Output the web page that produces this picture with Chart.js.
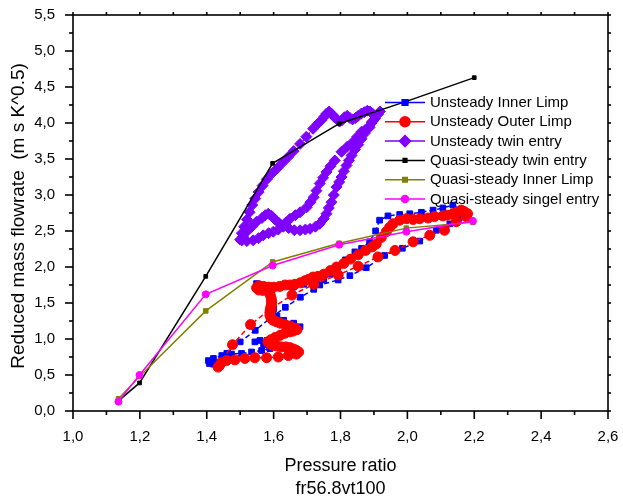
<!DOCTYPE html>
<html>
<head>
<meta charset="utf-8">
<script src="https://cdn.jsdelivr.net/npm/chart.js@4.4.0/dist/chart.umd.min.js"></script>
<style>
  html, body { margin: 0; padding: 0; background: #fff; }
  canvas { display: block; }
</style>
</head>
<body>
<canvas id="flowChart" width="623" height="499"></canvas>
<script>
// Axis ticks
const xTickValues = [1.0, 1.2, 1.4, 1.6, 1.8, 2.0, 2.2, 2.4, 2.6];
const yTickValues = [0.0, 0.5, 1.0, 1.5, 2.0, 2.5, 3.0, 3.5, 4.0, 4.5, 5.0, 5.5];

// Unsteady inner limb (pressure ratio, reduced mass flow)
const innerLimpX = [1.589, 1.564, 1.534, 1.504, 1.474, 1.445, 1.420, 1.405, 1.408, 1.420, 1.435,
  1.460, 1.500, 1.545, 1.590, 1.635, 1.680, 1.720, 1.738, 1.793, 1.828, 1.877, 1.932, 1.985,
  2.037, 2.087, 2.127, 2.155, 2.171, 2.160, 2.136, 2.106, 2.077, 2.042, 2.007, 1.977, 1.942,
  1.917, 1.905, 1.887, 1.863, 1.843, 1.815, 1.790, 1.770, 1.750, 1.720, 1.690, 1.659, 1.620,
  1.585, 1.549, 1.556, 1.570, 1.590, 1.600, 1.610, 1.630, 1.660, 1.679, 1.660, 1.620, 1.580,
  1.559, 1.544, 1.570, 1.589];
const innerLimpY = [0.87, 0.84, 0.82, 0.80, 0.79, 0.77, 0.73, 0.70, 0.66, 0.65, 0.68,
  0.80, 0.96, 1.12, 1.29, 1.44, 1.58, 1.69, 1.75, 1.82, 1.88, 1.99, 2.16, 2.26,
  2.36, 2.51, 2.60, 2.68, 2.72, 2.80, 2.86, 2.82, 2.79, 2.76, 2.74, 2.73, 2.71,
  2.65, 2.50, 2.35, 2.26, 2.21, 2.10, 2.00, 1.90, 1.82, 1.78, 1.76, 1.72, 1.73,
  1.74, 1.77, 1.70, 1.65, 1.55, 1.42, 1.32, 1.26, 1.22, 1.17, 1.12, 1.05, 0.98,
  0.98, 0.96, 0.92, 0.87];

// Unsteady outer limb
const outerLimpX = [1.434, 1.477, 1.531, 1.592, 1.655, 1.720, 1.793, 1.853, 1.912, 1.963,
  2.017, 2.067, 2.111, 2.146, 2.176, 2.180, 2.170, 2.161, 2.148, 2.136, 2.120, 2.106, 2.081,
  2.062, 2.037, 2.017, 1.997, 1.977, 1.957, 1.947, 1.937, 1.922, 1.907, 1.895, 1.875, 1.853,
  1.830, 1.810, 1.788, 1.770, 1.750, 1.733, 1.718, 1.705, 1.694, 1.680, 1.664, 1.649, 1.634,
  1.618, 1.600, 1.585, 1.570, 1.556, 1.549, 1.556, 1.568, 1.579, 1.587, 1.590, 1.593, 1.594,
  1.594, 1.592, 1.590, 1.589, 1.589, 1.592, 1.598, 1.608, 1.619, 1.634, 1.649, 1.664, 1.670,
  1.659, 1.649, 1.634, 1.619, 1.604, 1.592, 1.583, 1.590, 1.599, 1.612, 1.624, 1.637, 1.649,
  1.660, 1.669, 1.675, 1.668, 1.644, 1.614, 1.579, 1.544, 1.514, 1.484, 1.459, 1.444, 1.438];
const outerLimpY = [0.61, 0.92, 1.20, 1.42, 1.61, 1.76, 1.89, 2.01, 2.14, 2.23,
  2.35, 2.44, 2.51, 2.63, 2.70, 2.74, 2.77, 2.79, 2.76, 2.74, 2.72, 2.71, 2.70,
  2.68, 2.67, 2.66, 2.67, 2.65, 2.60, 2.55, 2.49, 2.41, 2.32, 2.28, 2.23, 2.17,
  2.11, 2.05, 2.00, 1.95, 1.90, 1.87, 1.86, 1.83, 1.81, 1.78, 1.76, 1.75, 1.75,
  1.73, 1.72, 1.72, 1.73, 1.74, 1.71, 1.68, 1.68, 1.68, 1.65, 1.61, 1.56, 1.52,
  1.49, 1.45, 1.41, 1.37, 1.33, 1.29, 1.26, 1.24, 1.22, 1.20, 1.18, 1.15, 1.13,
  1.11, 1.10, 1.08, 1.05, 1.02, 0.99, 0.96, 0.93, 0.91, 0.90, 0.89, 0.89, 0.88,
  0.86, 0.84, 0.82, 0.79, 0.77, 0.75, 0.74, 0.74, 0.73, 0.71, 0.70, 0.67, 0.63];

// Unsteady twin entry
const twinEntryX = [1.500, 1.505, 1.512, 1.520, 1.528, 1.536, 1.545, 1.555, 1.567, 1.580,
  1.595, 1.611, 1.627, 1.644, 1.660, 1.679, 1.698, 1.718, 1.732, 1.743, 1.752, 1.758, 1.766,
  1.775, 1.782, 1.790, 1.797, 1.805, 1.812, 1.820, 1.828, 1.836, 1.845, 1.853, 1.862, 1.871,
  1.880, 1.888, 1.896, 1.904, 1.895, 1.887, 1.875, 1.863, 1.850, 1.838, 1.820, 1.803, 1.783,
  1.770, 1.758, 1.748, 1.738, 1.728, 1.720, 1.710, 1.699, 1.679, 1.665, 1.649, 1.637, 1.624,
  1.614, 1.604, 1.594, 1.584, 1.575, 1.565, 1.549, 1.535, 1.519, 1.508, 1.505, 1.520, 1.539,
  1.555, 1.569, 1.585, 1.599, 1.614, 1.629, 1.645, 1.662, 1.679, 1.695, 1.709, 1.725, 1.738,
  1.750, 1.758, 1.765, 1.773, 1.780, 1.788, 1.796, 1.803, 1.810, 1.818, 1.825, 1.833, 1.843,
  1.853, 1.863, 1.873, 1.883, 1.893, 1.903, 1.912, 1.918];
const twinEntryY = [2.38, 2.47, 2.56, 2.66, 2.76, 2.86, 2.95, 3.04, 3.13, 3.22,
  3.30, 3.37, 3.45, 3.53, 3.61, 3.71, 3.81, 3.92, 3.99, 4.04, 4.09, 4.13, 4.16,
  4.12, 4.08, 4.05, 4.02, 4.04, 4.08, 4.10, 4.07, 4.05, 4.07, 4.10, 4.13, 4.15,
  4.17, 4.16, 4.13, 4.10, 4.02, 3.94, 3.91, 3.88, 3.81, 3.74, 3.67, 3.60, 3.48,
  3.40, 3.32, 3.24, 3.16, 3.06, 2.97, 2.90, 2.83, 2.76, 2.72, 2.67, 2.62, 2.58,
  2.62, 2.66, 2.71, 2.74, 2.72, 2.68, 2.63, 2.56, 2.49, 2.42, 2.37, 2.36, 2.37,
  2.40, 2.44, 2.47, 2.49, 2.52, 2.56, 2.54, 2.51, 2.51, 2.52, 2.53, 2.56, 2.60,
  2.67, 2.74, 2.82, 2.90, 3.00, 3.11, 3.18, 3.25, 3.33, 3.41, 3.48, 3.55, 3.63,
  3.70, 3.78, 3.86, 3.93, 4.00, 4.06, 4.12, 4.16];

// Quasi-steady curves
const quasiTwinX = [1.136, 1.199, 1.397, 1.597, 1.796, 1.997, 2.200];
const quasiTwinY = [0.14, 0.39, 1.87, 3.44, 3.99, 4.30, 4.63];
const quasiInnerX = [1.136, 1.199, 1.397, 1.597, 1.796, 1.997, 2.196];
const quasiInnerY = [0.17, 0.48, 1.39, 2.07, 2.33, 2.54, 2.62];
const quasiSingleX = [1.136, 1.199, 1.397, 1.597, 1.796, 1.997, 2.196];
const quasiSingleY = [0.13, 0.50, 1.62, 2.02, 2.31, 2.49, 2.64];

const FONT = "'Liberation Sans', Arial, sans-serif";

const toPoints = (xs, ys) => xs.map((x, i) => ({ x, y: ys[i] }));
const fmt = v => v.toFixed(1).replace('.', ',');

const series = [
  { label: 'Unsteady Inner Limp', data: toPoints(innerLimpX, innerLimpY), color: '#0000ff', style: 'rect', radius: 4, dash: [5, 3] },
  { label: 'Unsteady Outer Limp', data: toPoints(outerLimpX, outerLimpY), color: '#ff0000', style: 'circle', radius: 5, dash: [5, 3] },
  { label: 'Unsteady twin entry', data: toPoints(twinEntryX, twinEntryY), color: '#8000ff', style: 'rectRot', radius: 5.5, dash: [4, 3] },
  { label: 'Quasi-steady twin entry', data: toPoints(quasiTwinX, quasiTwinY), color: '#000000', style: 'rect', radius: 2.6, dash: [] },
  { label: 'Quasi-steady Inner Limp', data: toPoints(quasiInnerX, quasiInnerY), color: '#808000', style: 'rect', radius: 3.2, dash: [] },
  { label: 'Quasi-steady singel entry', data: toPoints(quasiSingleX, quasiSingleY), color: '#ff00ff', style: 'circle', radius: 3.5, dash: [] }
];

// frame, ticks on all four sides, axis titles and legend
const frameAndLegend = {
  id: 'frameAndLegend',
  afterDraw(chart) {
    const { ctx, chartArea: a, scales: { x, y } } = chart;
    ctx.save();
    ctx.strokeStyle = '#000';
    ctx.lineWidth = 1.6;
    ctx.strokeRect(a.left, a.top, a.right - a.left, a.bottom - a.top);

    const tick = (x1, y1, x2, y2) => {
      ctx.beginPath(); ctx.moveTo(x1, y1); ctx.lineTo(x2, y2); ctx.stroke();
    };
    xTickValues.forEach((v, i) => {
      const px = x.getPixelForValue(v);
      tick(px, a.bottom, px, a.bottom + 8);
      tick(px, a.top, px, a.top - 3);
      if (i < xTickValues.length - 1) {
        const mx = x.getPixelForValue((v + xTickValues[i + 1]) / 2);
        tick(mx, a.bottom, mx, a.bottom + 4);
        tick(mx, a.top, mx, a.top - 3);
      }
    });
    yTickValues.forEach((v, i) => {
      const py = y.getPixelForValue(v);
      tick(a.left, py, a.left - 8, py);
      tick(a.right, py, a.right + 3, py);
      if (i < yTickValues.length - 1) {
        const my = y.getPixelForValue((v + yTickValues[i + 1]) / 2);
        tick(a.left, my, a.left - 4, my);
        tick(a.right, my, a.right + 3, my);
      }
    });

    // axis titles
    ctx.fillStyle = '#000';
    ctx.textAlign = 'center';
    ctx.textBaseline = 'middle';
    ctx.font = `18px ${FONT}`;
    const cx = (a.left + a.right) / 2;
    ctx.fillText('Pressure ratio', cx, 466);
    ctx.fillText('fr56.8vt100', cx, 489);
    ctx.save();
    ctx.translate(19, 216);
    ctx.rotate(-Math.PI / 2);
    ctx.font = `19px ${FONT}`;
    ctx.fillText('Reduced mass flowrate  (m s K^0.5)', 0, 0);
    ctx.restore();

    // legend
    ctx.font = `15px ${FONT}`;
    ctx.textAlign = 'left';
    chart.data.datasets.forEach((ds, i) => {
      const ry = 102.5 + i * 19.3;
      ctx.strokeStyle = ds.borderColor;
      ctx.lineWidth = 1.5;
      ctx.setLineDash([]);
      tick(385, ry, 425, ry);
      ctx.fillStyle = ds.pointBackgroundColor;
      Chart.helpers.drawPoint(ctx, {
        pointStyle: ds.pointStyle, radius: ds.pointRadius, rotation: 0, borderWidth: 1
      }, 405, ry);
      ctx.fillStyle = '#000';
      ctx.fillText(ds.label, 430, ry + 0.5);
    });
    ctx.restore();
  }
};

new Chart(document.getElementById('flowChart'), {
  type: 'scatter',
  data: {
    datasets: series.map((s, i) => ({
      label: s.label,
      data: s.data,
      showLine: true,
      order: series.length - i,
      borderColor: s.color,
      backgroundColor: s.color,
      borderWidth: 1.5,
      borderDash: s.dash,
      pointStyle: s.style,
      pointRadius: s.radius,
      pointBackgroundColor: s.color,
      pointBorderColor: s.color,
      pointBorderWidth: 1,
      tension: 0
    }))
  },
  options: {
    responsive: false,
    animation: false,
    layout: { padding: { top: 15, right: 15, left: 0, bottom: 0 } },
    plugins: { legend: { display: false }, tooltip: { enabled: false } },
    scales: {
      x: {
        type: 'linear',
        min: 1.0,
        max: 2.6,
        afterBuildTicks: s => { s.ticks = xTickValues.map(v => ({ value: v })); },
        afterFit: s => { s.height = 88; s.paddingLeft = 0; s.paddingRight = 0; },
        grid: { display: false },
        border: { display: false },
        ticks: { padding: 9, color: '#000', autoSkip: false, maxRotation: 0,
          font: { family: FONT, size: 15 }, callback: v => fmt(v) }
      },
      y: {
        type: 'linear',
        min: 0,
        max: 5.5,
        afterBuildTicks: s => { s.ticks = yTickValues.map(v => ({ value: v })); },
        afterFit: s => { s.width = 73; s.paddingTop = 0; s.paddingBottom = 0; },
        grid: { display: false },
        border: { display: false },
        ticks: { padding: 10, color: '#000', autoSkip: false,
          font: { family: FONT, size: 15 }, callback: v => fmt(v) }
      }
    }
  },
  plugins: [frameAndLegend]
});
</script>
</body>
</html>
